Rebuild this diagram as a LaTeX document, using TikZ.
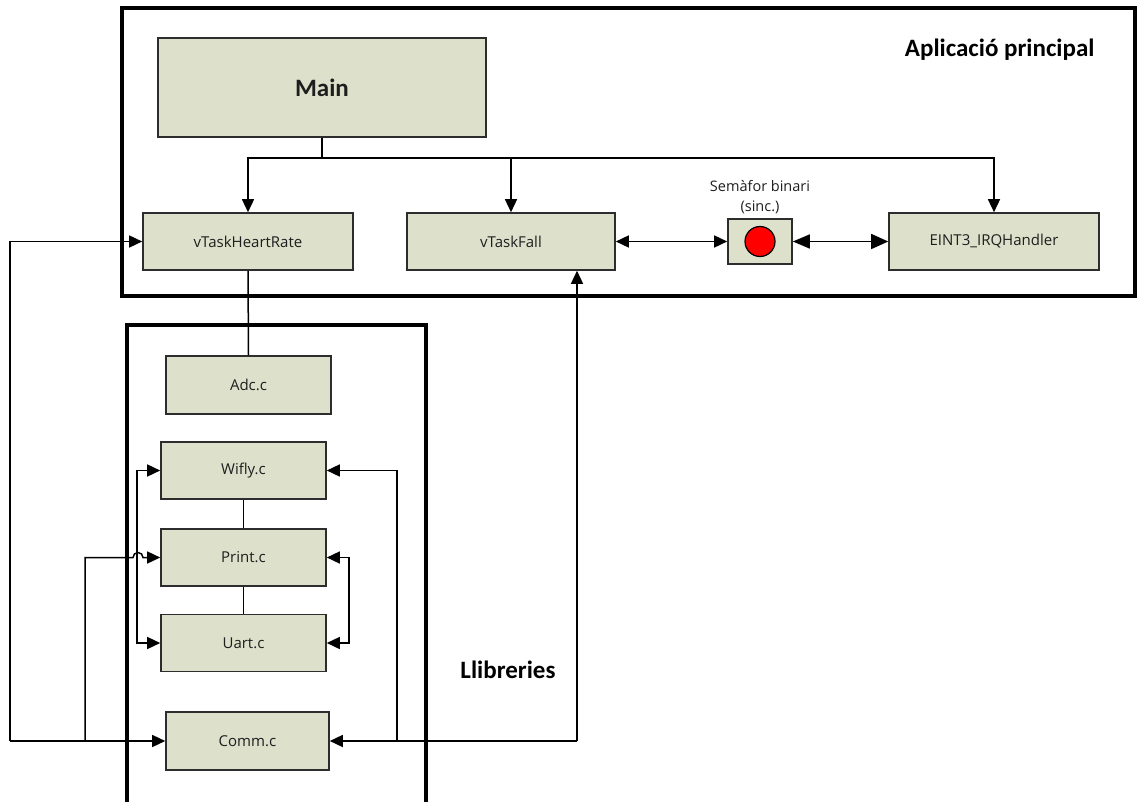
\documentclass[tikz,border=0pt]{standalone}
\usepackage{fontspec}
\setmainfont{Open Sans}
\newfontfamily\headfont{Carlito}
\usetikzlibrary{arrows.meta}
\definecolor{boxfill}{RGB}{221,224,202}
\definecolor{boxline}{RGB}{45,45,45}
\definecolor{labeltext}{RGB}{30,30,30}
\begin{document}
\begin{tikzpicture}[x=1pt,y=-1pt,
  module/.style={draw=boxline,line width=1.6pt,fill=boxfill,inner sep=0pt,
    font=\fontsize{15}{17}\selectfont,text=labeltext},
  frame/.style={draw=black,line width=4pt},
  link/.style={draw=black,line width=1.5pt},
  tip/.style={-{Triangle[length=13pt,width=12pt]}},
  bitip/.style={{Triangle[length=13pt,width=12pt]}-{Triangle[length=13pt,width=12pt]}},
  bigtip/.style={{Triangle[length=17pt,width=14pt]}-{Triangle[length=17pt,width=15pt]}},
  heading/.style={font=\headfont\bfseries\fontsize{25}{28}\selectfont},
  caption/.style={font=\fontsize{14.5}{16}\selectfont,text=labeltext,inner sep=0pt}]
\useasboundingbox (0,0) rectangle (1138,802);

% application modules
\node[module,minimum width=328pt,minimum height=99pt,
  font=\headfont\bfseries\fontsize{25}{28}\selectfont] (main) at (322,87.5) {Main};
\node[module,minimum width=210pt,minimum height=57pt] (vthr) at (248,241.5) {vTaskHeartRate};
\node[module,minimum width=208pt,minimum height=57pt] (vfall) at (511,241.5) {vTaskFall};
\node[module,minimum width=64pt,minimum height=45pt] (sem) at (760,241.5) {};
\node[draw=black,line width=1.2pt,fill=red,circle,minimum size=30pt,inner sep=0pt] (led) at (sem) {};
\node[module,minimum width=210pt,minimum height=57pt] (eint) at (994,241.5) {EINT3\_IRQHandler};
\node[caption] (semlbl) at (760,186) {Semàfor binari};
\node[caption] (semlbl2) at (760,207) {(sinc.)};
\node[heading,anchor=east] (apptitle) at (1098,50) {Aplicació principal};

% library modules
\node[module,minimum width=165pt,minimum height=58pt] (adc) at (248.5,385) {Adc.c};
\node[module,minimum width=165pt,minimum height=57pt] (wifly) at (243.5,470.5) {Wifly.c};
\node[module,minimum width=165pt,minimum height=57pt] (print) at (243.5,557.5) {Print.c};
\node[module,minimum width=165pt,minimum height=57pt] (uart) at (243.5,643) {Uart.c};
\node[module,minimum width=163pt,minimum height=58pt] (comm) at (247.5,741) {Comm.c};
\node[heading] (libtitle) at (508,670) {Llibreries};

% junction points
\coordinate (mj) at (322,158);
\coordinate (jL) at (10,741);
\coordinate (jP) at (85,741);
\coordinate (jW) at (397,741);
\coordinate (jR) at (577,741);

% Main dispatches the tasks and the handler
\draw[link] (main.south) -- (mj);
\draw[link,tip] (mj) -| (vthr.north);
\draw[link,tip] (mj) -| (vfall.north);
\draw[link,tip] (mj) -| (eint.north);

% semaphore synchronisation
\draw[link,bitip] (vfall.east) -- (sem.west);
\draw[link,bigtip] (sem.east) -- (eint.west);

% library dependencies
\draw[link] (vthr.south) -- (adc.north);
\draw[link] (wifly.south) -- (print.north);
\draw[link] (print.south) -- (uart.north);
\draw[link,bitip] (wifly.west) -- ++(-23,0) |- (uart.west);
\draw[link,bitip] (print.east) -- ++(22,0) |- (uart.east);

% left bus towards Comm.c
\draw[link,tip] (jL) |- (vthr.west);
\draw[link,tip] (jL) -- (comm.west);
\draw[link,tip] (jP) |- (133,557.5) arc[start angle=180,end angle=360,radius=5] -- (print.west);

% right bus towards Comm.c
\draw[link,tip] (jR) -- (jR |- vfall.south);
\draw[link,tip] (jR) -- (comm.east);
\draw[link,tip] (jW) |- (wifly.east);

% group frames
\draw[frame] (122,8) rectangle (1135,296);
\draw[frame] (127,325) rectangle (426,804);
\end{tikzpicture}
\end{document}
